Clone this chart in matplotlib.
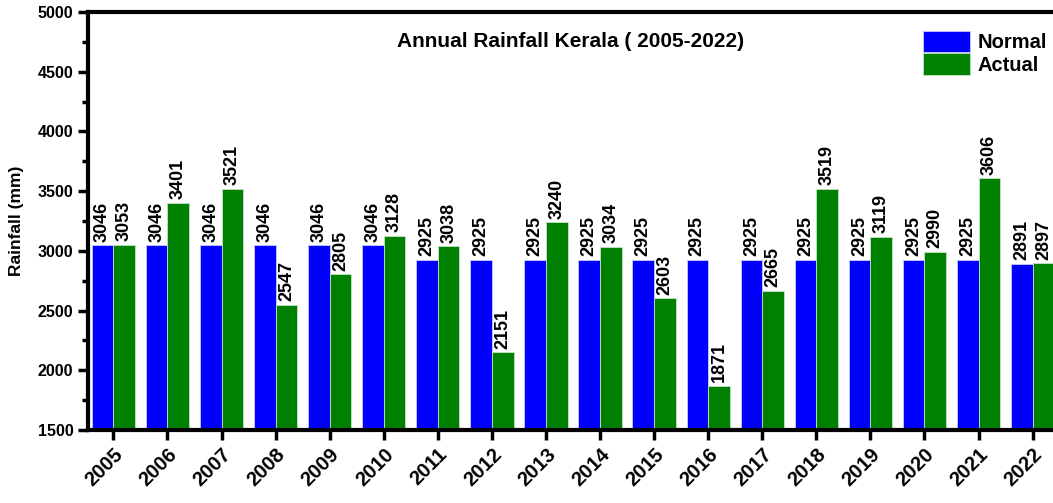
import numpy as np
import matplotlib
matplotlib.use('Agg')
import matplotlib.pyplot as plt
from matplotlib.ticker import MultipleLocator

plt.rcParams['font.family'] = ['Liberation Sans', 'DejaVu Sans']
plt.rcParams['font.weight'] = 'bold'

anos = ['2005', '2006', '2007', '2008', '2009', '2010', '2011', '2012', '2013',
        '2014', '2015', '2016', '2017', '2018', '2019', '2020', '2021', '2022']
normal = [3046, 3046, 3046, 3046, 3046, 3046, 2925, 2925, 2925,
          2925, 2925, 2925, 2925, 2925, 2925, 2925, 2925, 2891]
actual = [3053, 3401, 3521, 2547, 2805, 3128, 3038, 2151, 3240,
          3034, 2603, 1871, 2665, 3519, 3119, 2990, 3606, 2897]

W, H = 1053, 503
fig = plt.figure(figsize=(W / 100, H / 100), dpi=100)
ax = fig.add_axes([88 / W, (H - 430) / H, (1058 - 88) / W, (430 - 12) / H])

x = np.arange(len(anos))
w = 0.4
b1 = ax.bar(x - w / 2, normal, w, color='#0000FF', edgecolor='#c8c8ff', linewidth=0.6, label='Normal')
b2 = ax.bar(x + w / 2, actual, w, color='#008000', edgecolor='#c8e0c8', linewidth=0.6, label='Actual')

for rects, vals in [(b1, normal), (b2, actual)]:
    for r, v in zip(rects, vals):
        ax.text(r.get_x() + r.get_width() / 2, v + 30, str(v), rotation=90,
                ha='center', va='bottom', fontsize=13, fontweight='bold')

ax.set_ylim(1500, 5000)
ax.set_xlim(-0.47, 17.47)
ax.yaxis.set_major_locator(MultipleLocator(500))
ax.yaxis.set_minor_locator(MultipleLocator(250))
ax.set_xticks(x)
ax.set_xticklabels(anos, rotation=45, ha='right', rotation_mode='anchor', fontsize=14.5, fontweight='bold')
ax.tick_params(axis='y', labelsize=11.5, width=2.5, length=7, direction='out')
ax.tick_params(axis='y', which='minor', width=2.5, length=4, direction='out')
ax.tick_params(axis='x', width=2.5, length=7, direction='out')
for s in ax.spines.values():
    s.set_linewidth(3)
ax.set_ylabel('Rainfall (mm)', fontsize=12.5, fontweight='bold', labelpad=10)

ax.text(0.497, 0.93, 'Annual Rainfall Kerala ( 2005-2022)', transform=ax.transAxes,
        ha='center', va='center', fontsize=15, fontweight='bold')
ax.legend(loc='upper left', bbox_to_anchor=(0.853, 0.975), frameon=False,
          handlelength=2.3, handleheight=1.3, labelspacing=0.05, handletextpad=0.4,
          borderaxespad=0, prop={'weight': 'bold', 'size': 14.5})

fig.savefig('out.png', dpi=100)
